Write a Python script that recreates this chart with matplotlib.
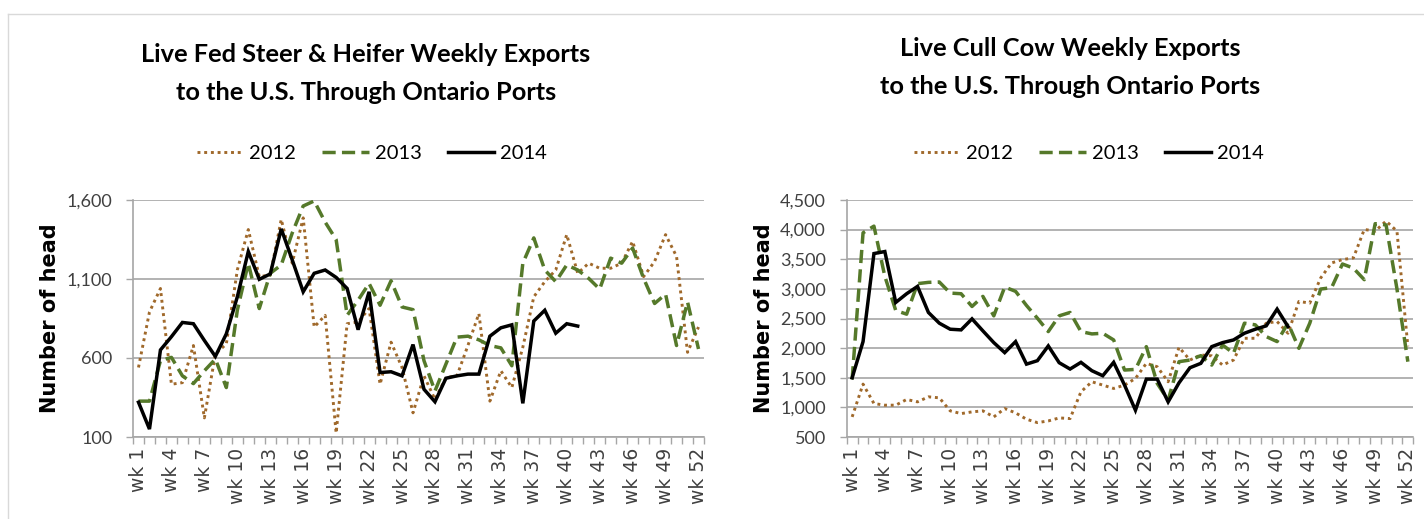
import matplotlib
matplotlib.use("Agg")
import matplotlib.pyplot as plt
from matplotlib.lines import Line2D
import numpy as np

W, H = 1424, 519

weeks = list(range(1, 53))
tick_weeks = list(range(1, 53, 3))
tick_labels = [f"wk {w}" for w in tick_weeks]
years = ["2012", "2013", "2014"]

fed_2012 = [540, 891, 1040, 434, 444, 679, 221, 625, 689, 1157, 1413, 1115, 1125, 1477, 1200, 1487,
            796, 870, 125, 817, 828, 913, 434, 700, 540, 253, 487, 338, 476, 487, 679, 881, 327, 519,
            413, 668, 987, 1083, 1157, 1381, 1136, 1200, 1168, 1168, 1200, 1338, 1115, 1211, 1381,
            1243, 636, 796]
fed_2013 = [327, 327, 583, 604, 487, 438, 519, 593, 413, 902, 1200, 913, 1136, 1189, 1391, 1562,
            1594, 1460, 1349, 870, 966, 1072, 934, 1089, 923, 906, 583, 391, 562, 732, 738, 715, 679,
            664, 551, 1200, 1360, 1157, 1083, 1189, 1157, 1104, 1036, 1232, 1200, 1296, 1104, 945,
            1004, 679, 955, 657]
fed_2014 = [320, 150, 651, 735, 825, 817, 711, 610, 753, 987, 1274, 1098, 1132, 1417, 1221, 1019,
            1136, 1157, 1110, 1040, 779, 1019, 508, 513, 487, 685, 402, 323, 472, 487, 498, 498, 738,
            791, 810, 313, 834, 902, 757, 817, 802]

cow_2012 = [839, 1393, 1065, 1037, 1037, 1133, 1093, 1178, 1161, 941, 895, 924, 941, 839, 980, 907,
            800, 743, 771, 822, 811, 1263, 1432, 1376, 1319, 1376, 1488, 1743, 1686, 1432, 2014, 1799,
            1884, 1870, 1714, 1799, 2166, 2166, 2421, 2449, 2251, 2788, 2760, 3184, 3438, 3494, 3522,
            4003, 3975, 4144, 3975, 2030]
cow_2013 = [1472, 3946, 4059, 3212, 2636, 2573, 3088, 3110, 3116, 2929, 2918, 2703, 2873, 2545, 3031,
            2958, 2720, 2505, 2279, 2545, 2602, 2279, 2240, 2251, 2138, 1630, 1641, 2025, 1404, 1121,
            1771, 1799, 1873, 1714, 2053, 1912, 2421, 2393, 2195, 2110, 2421, 1997, 2421, 2997, 3020,
            3420, 3350, 3155, 4100, 4080, 3000, 1771]
cow_2014 = [1500, 2110, 3596, 3630, 2771, 2918, 3042, 2602, 2421, 2319, 2308, 2494, 2291, 2093, 1924,
            2110, 1730, 1788, 2037, 1754, 1647, 1760, 1619, 1534, 1760, 1376, 952, 1477, 1477, 1093,
            1415, 1669, 1743, 2025, 2093, 2138, 2251, 2319, 2376, 2658, 2364]

fed_yticks = [100, 600, 1100, 1600]
cow_yticks = [500, 1000, 1500, 2000, 2500, 3000, 3500, 4000, 4500]

C2012 = "#A0692B"
C2013 = "#55792A"
C2014 = "#000000"
GRID = "#A6A6A6"

fig = plt.figure(figsize=(W / 100, H / 100), dpi=100)
fig.patch.set_facecolor("white")

# frame lines
fig.add_artist(Line2D([8 / W, 1], [1 - 14 / H, 1 - 14 / H], transform=fig.transFigure,
                      color="#D9D9D9", lw=1))
fig.add_artist(Line2D([8 / W, 8 / W], [0, 1 - 14 / H], transform=fig.transFigure,
                      color="#D9D9D9", lw=1))


def make_panel(rect, s12, s13, s14, yticks, title1, title2, tcx, t1y, t2y, legx, ylabx):
    ax = fig.add_axes(rect)
    l1, = ax.plot(weeks[:len(s12)], s12, color=C2012, lw=2.1, linestyle=(0, (1.0, 1.3)),
                  label=years[0])
    l2, = ax.plot(weeks[:len(s13)], s13, color=C2013, lw=2.5, label=years[1])
    l2.set_dashes((3.8, 1.8))
    l3, = ax.plot(weeks[:len(s14)], s14, color=C2014, lw=2.5, label=years[2],
                  solid_joinstyle="miter")
    ax.set_xlim(0.5, 52.5)
    ax.set_ylim(yticks[0], yticks[-1])
    ax.set_yticks(yticks)
    ax.set_yticklabels([f"{v:,}" for v in yticks], fontsize=13, family="Lato")
    ax.set_xticks(tick_weeks)
    ax.set_xticklabels(tick_labels, rotation=90, fontsize=13.5, family="DejaVu Sans")
    ax.set_xticks(np.arange(0.5, 53, 1), minor=True)
    ax.tick_params(axis="x", which="major", length=0, pad=8, colors="#404040")
    ax.tick_params(axis="x", which="minor", length=5, color=GRID, width=1)
    ax.tick_params(axis="y", which="major", length=5, color=GRID, width=1, pad=10,
                   labelcolor="#404040")
    ax.grid(axis="y", color=GRID, lw=1.2)
    ax.set_axisbelow(True)
    for s in ["top", "right"]:
        ax.spines[s].set_visible(False)
    for s in ["left", "bottom"]:
        ax.spines[s].set_color(GRID)
        ax.spines[s].set_linewidth(1.2)
    fig.text(ylabx / W, 1 - 318 / H, "Number of head", rotation=90, ha="center", va="center",
             fontsize=15, fontweight="bold", family="DejaVu Sans")
    fig.text(tcx / W, 1 - t1y / H, title1, ha="center", va="center", fontsize=18.3,
             fontweight="bold", family="Lato")
    fig.text(tcx / W, 1 - t2y / H, title2, ha="center", va="center", fontsize=18.3,
             fontweight="bold", family="Lato")
    ax.legend(handles=[l1, l2, l3], loc="center", ncol=3, frameon=False,
              bbox_to_anchor=(legx / W, 1 - 153 / H), bbox_transform=fig.transFigure,
              prop={"family": "Lato", "size": 14.5}, handlelength=2.3, handletextpad=0.3,
              columnspacing=1.3)
    return ax


make_panel([133 / W, (H - 437) / H, 571 / W, 237 / H], fed_2012, fed_2013, fed_2014, fed_yticks,
           "Live Fed Steer & Heifer Weekly Exports", "to the U.S. Through Ontario Ports",
           366, 54, 93, 372, 50)
make_panel([846.7 / W, (H - 437) / H, 566.6 / W, 237 / H], cow_2012, cow_2013, cow_2014, cow_yticks,
           "Live Cull Cow Weekly Exports", "to the U.S. Through Ontario Ports",
           1070, 48, 87, 1089, 764)

fig.savefig("out.png", dpi=100, facecolor="white")
